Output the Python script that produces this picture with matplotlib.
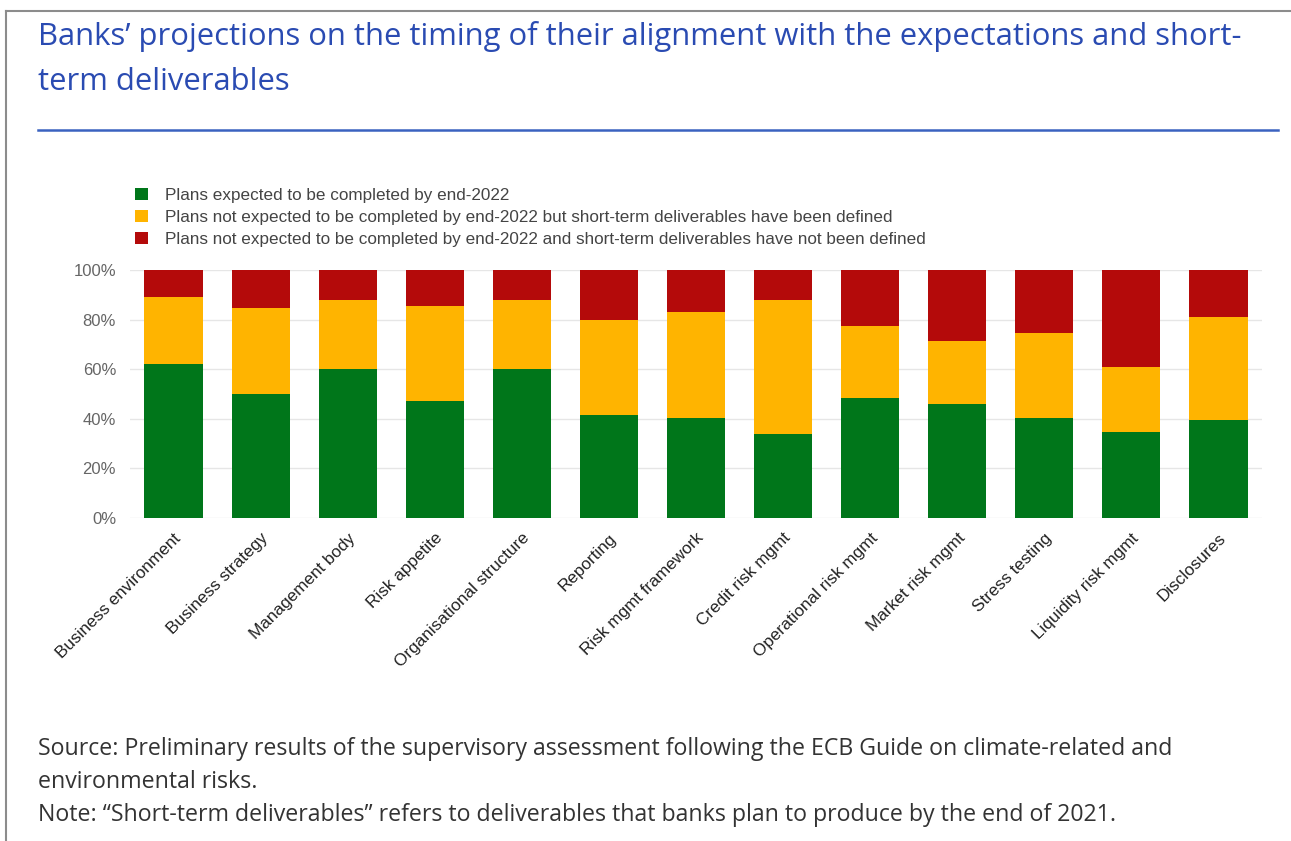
import numpy as np
import matplotlib.pyplot as plt
from matplotlib.patches import Patch
from matplotlib.lines import Line2D

# Data (share of banks, %)
categories = ["Business environment", "Business strategy", "Management body",
              "Risk appetite", "Organisational structure", "Reporting",
              "Risk mgmt framework", "Credit risk mgmt", "Operational risk mgmt",
              "Market risk mgmt", "Stress testing", "Liquidity risk mgmt",
              "Disclosures"]
completed = [62, 50, 60, 47, 60, 41.5, 40.5, 34, 48.5, 46, 40.5, 34.5, 39.5]
deliverables_defined = [27, 34.5, 28, 38.5, 28, 38.5, 42.5, 54, 29, 25.5, 34, 26.5, 41.5]
deliverables_not_defined = [11, 15.5, 12, 14.5, 12, 20, 17, 12, 22.5, 28.5, 25.5, 39, 19]

series_labels = [
    "Plans expected to be completed by end-2022",
    "Plans not expected to be completed by end-2022 but short-term deliverables have been defined",
    "Plans not expected to be completed by end-2022 and short-term deliverables have not been defined",
]
colors = ["#00761a", "#ffb400", "#b40a0a"]
yticks = [0, 20, 40, 60, 80, 100]

W, H = 1291, 841
fig = plt.figure(figsize=(W / 100, H / 100), dpi=100)

# frame of the box (top and left edges)
fig.add_artist(Line2D([6 / W, 6 / W], [0, 1 - 11 / H], color="#8c8c8c", lw=1.5))
fig.add_artist(Line2D([6 / W, 1], [1 - 11 / H, 1 - 11 / H], color="#8c8c8c", lw=1.5))

# title
fig.text(38 / W, 1 - 45 / H, "Banks\u2019 projections on the timing of their alignment with the expectations and short-",
         family="Open Sans", fontsize=22.3, color="#2a4bb2", va="baseline", ha="left")
fig.text(38 / W, 1 - 90 / H, "term deliverables",
         family="Open Sans", fontsize=22.3, color="#2a4bb2", va="baseline", ha="left")
fig.add_artist(Line2D([38 / W, 1278 / W], [1 - 130 / H, 1 - 130 / H], color="#3b62c0", lw=1.8))

# chart
ax = fig.add_axes([130 / W, 1 - 518 / H, 1132 / W, 248 / H])
x = np.arange(len(categories))
bottom = np.zeros(len(categories))
for vals, col in zip([completed, deliverables_defined, deliverables_not_defined], colors):
    ax.bar(x, vals, bottom=bottom, width=0.667, color=col, zorder=2)
    bottom += np.array(vals)

ax.set_xlim(-0.5, len(categories) - 0.5)
ax.set_ylim(0, 100)
ax.set_yticks(yticks)
ax.set_yticklabels([f"{v}%" for v in yticks], family="Liberation Sans", fontsize=12, color="#666666")
ax.yaxis.grid(True, color="#e6e6e6", lw=1, zorder=0)
ax.tick_params(axis="y", length=0, pad=10)
ax.tick_params(axis="x", length=0, pad=9)
for s in ax.spines.values():
    s.set_visible(False)
ax.set_xticks(x)
ax.set_xticklabels(categories, rotation=45, ha="right", rotation_mode="anchor",
                   family="Liberation Sans", fontsize=12.3, color="#222222")

# legend
handles = [Patch(facecolor=c, edgecolor="none") for c in colors]
fig.legend(handles, series_labels, loc="upper left", bbox_to_anchor=(128 / W, 1 - 181 / H),
           frameon=False, prop={"family": "Liberation Sans", "size": 12.3},
           labelcolor="#444444", handlelength=0.75, handleheight=0.75,
           handletextpad=1.0, labelspacing=0.4, borderaxespad=0)

# footnotes
fig.text(38 / W, 1 - 755 / H,
         "Source: Preliminary results of the supervisory assessment following the ECB Guide on climate-related and",
         family="Open Sans", fontsize=16.7, color="#333333", va="baseline", ha="left")
fig.text(38 / W, 1 - 788 / H, "environmental risks.",
         family="Open Sans", fontsize=16.7, color="#333333", va="baseline", ha="left")
fig.text(38 / W, 1 - 821 / H,
         "Note: \u201cShort-term deliverables\u201d refers to deliverables that banks plan to produce by the end of 2021.",
         family="Open Sans", fontsize=16.7, color="#333333", va="baseline", ha="left")

fig.savefig("out.png", dpi=100)
